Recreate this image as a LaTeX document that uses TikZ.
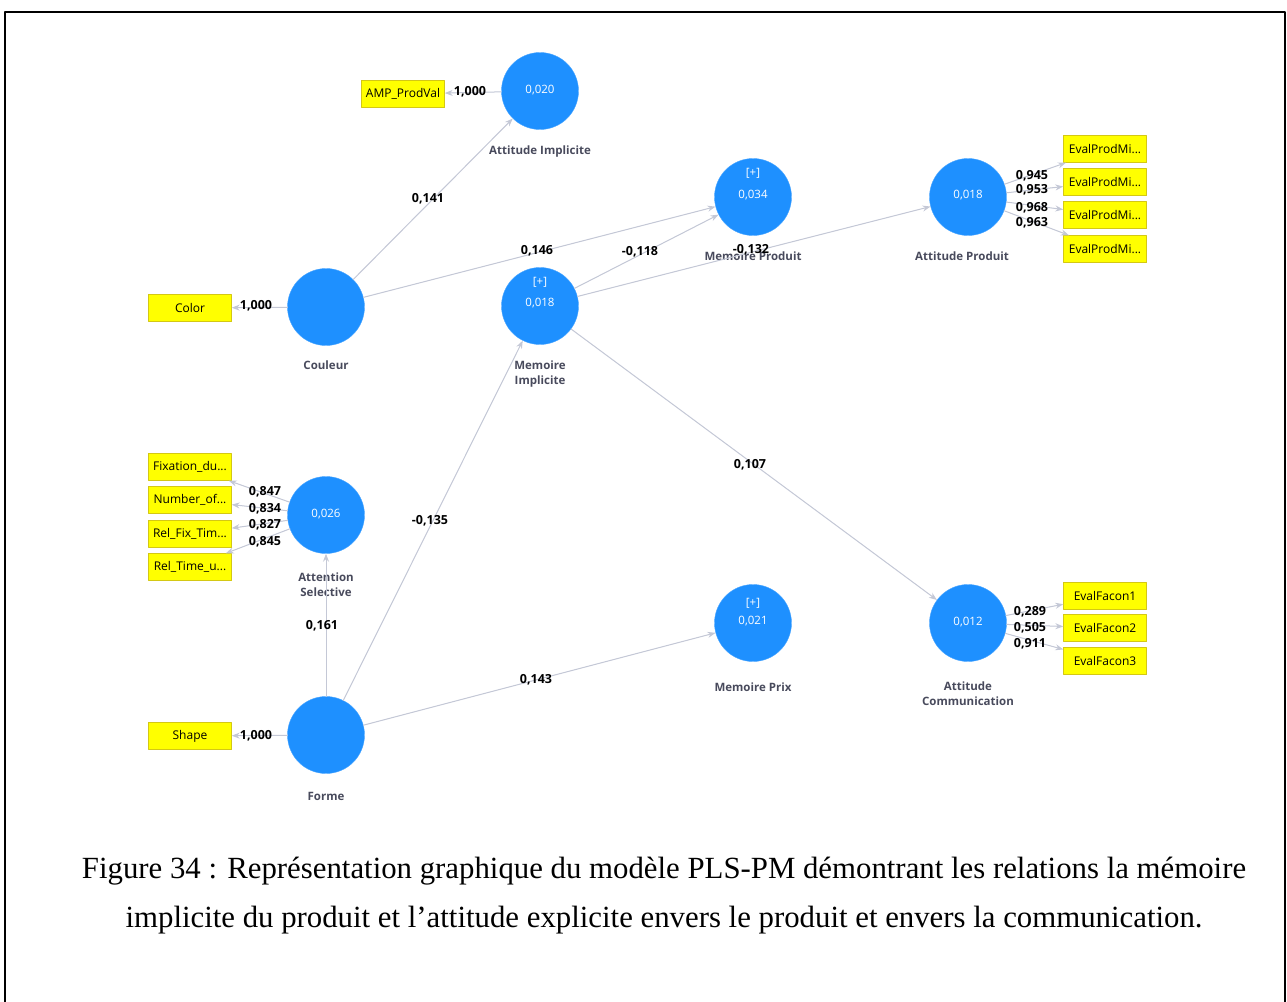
\documentclass[tikz,border=0pt]{standalone}
\usepackage{fontspec}
\setmainfont{Liberation Serif}
\newfontfamily\plsfont{Open Sans}
\usetikzlibrary{arrows.meta}
\definecolor{lvblue}{RGB}{30,144,255}
\definecolor{mvyellow}{RGB}{255,255,0}
\definecolor{mvedge}{RGB}{212,200,20}
\definecolor{pathgray}{RGB}{196,200,214}
\definecolor{namegray}{RGB}{72,74,92}
\begin{document}
\begin{tikzpicture}[x=1pt, y=-1pt, >={Stealth[length=8pt, width=6pt]}, line join=round, line cap=round,
	lv/.style={circle, fill=lvblue, draw=lvblue!80!white, minimum size=77pt, inner sep=0pt},
	lvval/.style={text=white, font=\plsfont\fontsize{11.5}{13}\selectfont, inner sep=0pt},
	mv/.style={rectangle, fill=mvyellow, draw=mvedge, minimum width=83pt, minimum height=27pt, inner sep=0pt, font=\plsfont\fontsize{12}{13}\selectfont},
	lvname/.style={text=namegray, font=\plsfont\bfseries\fontsize{11.5}{15}\selectfont, align=center, inner sep=0pt},
	coef/.style={font=\plsfont\bfseries\fontsize{12.5}{13}\selectfont, inner sep=0pt},
	plsarrow/.style={->, draw=pathgray, fill=pathgray, line width=1pt}]
		\useasboundingbox (0,0) rectangle (1287,1001);
		% cadre
		\draw[line width=2pt] (5,1020) -- (5,12) -- (1285,12) -- (1285,1020);
		% Attitude Implicite
		\node[lv] (attimp) at (540,91) {};
		\node[lvval] (attimpv) at (540,90) {0,020};
		\node[lvname] (attimpn) at (540,152) {Attitude Implicite};
		\node[mv] (ampprod) at (403,94) {AMP\_ProdVal};
		% Couleur
		\node[lv] (couleur) at (326,307) {};
		\node[lvname] (couleurn) at (326,365) {Couleur};
		\node[mv] (color) at (190,308) {Color};
		% Forme
		\node[lv] (forme) at (326,735) {};
		\node[lvname] (formen) at (326,796) {Forme};
		\node[mv] (shape) at (190,736) {Shape};
		% Attention Selective
		\node[lv] (attsel) at (326,515) {};
		\node[lvval] (attselv) at (326,514) {0,026};
		\node[lvname] (attseln) at (326,585) {Attention\\Selective};
		\node[mv] (fixdu) at (190,467) {Fixation\_du...};
		\node[mv] (numof) at (190,500) {Number\_of...};
		\node[mv] (relfix) at (190,534) {Rel\_Fix\_Tim...};
		\node[mv] (reltime) at (190,567) {Rel\_Time\_u...};
		% Memoire Implicite
		\node[lv] (memimp) at (540,306) {};
		\node[lvval] (memimpt) at (540,282) {[+]};
		\node[lvval] (memimpv) at (540,303) {0,018};
		\node[lvname] (memimpn) at (540,374) {Memoire\\Implicite};
		% Memoire Produit
		\node[lv] (memprod) at (753,197) {};
		\node[lvval] (memprodt) at (753,173) {[+]};
		\node[lvval] (memprodv) at (753,195) {0,034};
		\node[lvname] (memprodn) at (753,256) {Memoire Produit};
		% Attitude Produit
		\node[lv] (attprod) at (968,197) {};
		\node[lvval] (attprodv) at (968,195) {0,018};
		\node[lvname] (attprodn) at (962,256) {Attitude Produit};
		\node[mv] (evalpa) at (1105,149) {EvalProdMi...};
		\node[mv] (evalpb) at (1105,182) {EvalProdMi...};
		\node[mv] (evalpc) at (1105,215) {EvalProdMi...};
		\node[mv] (evalpd) at (1105,249) {EvalProdMi...};
		% Memoire Prix
		\node[lv] (memprix) at (753,623) {};
		\node[lvval] (memprixt) at (753,603) {[+]};
		\node[lvval] (memprixv) at (753,621) {0,021};
		\node[lvname] (memprixn) at (753,687) {Memoire Prix};
		% Attitude Communication
		\node[lv] (attcom) at (968,623) {};
		\node[lvval] (attcomv) at (968,622) {0,012};
		\node[lvname] (attcomn) at (968,694) {Attitude\\Communication};
		\node[mv] (evalfa) at (1105,596) {EvalFacon1};
		\node[mv] (evalfb) at (1105,628) {EvalFacon2};
		\node[mv] (evalfc) at (1105,661) {EvalFacon3};
		% relations structurelles
		\draw[plsarrow] (couleur) -- (attimp);
		\draw[plsarrow] (couleur) -- (memprod);
		\draw[plsarrow] (memimp) -- (memprod);
		\draw[plsarrow] (memimp) -- (attprod);
		\draw[plsarrow] (memimp) -- (attcom);
		\draw[plsarrow] (forme) -- (memimp);
		\draw[plsarrow] (forme) -- (attsel);
		\draw[plsarrow] (forme) -- (memprix);
		% mesures
		\draw[plsarrow] (attimp) -- (ampprod);
		\draw[plsarrow] (couleur) -- (color);
		\draw[plsarrow] (forme) -- (shape);
		\foreach \mvname in {fixdu, numof, relfix, reltime}
			\draw[plsarrow] (attsel) -- (\mvname);
		\foreach \mvname in {evalpa, evalpb, evalpc, evalpd}
			\draw[plsarrow] (attprod) -- (\mvname);
		\foreach \mvname in {evalfa, evalfb, evalfc}
			\draw[plsarrow] (attcom) -- (\mvname);
		% coefficients
		\node[coef] (cattimp) at (428,199) {0,141};
		\node[coef] (cmemprod) at (537,251) {0,146};
		\node[coef] (cmimp) at (640,252) {-0,118};
		\node[coef] (cattprod) at (751,250) {-0,132};
		\node[coef] (cattcom) at (750,465) {0,107};
		\node[coef] (cforme) at (430,521) {-0,135};
		\node[coef] (cattsel) at (322,626) {0,161};
		\node[coef] (cmemprix) at (536,680) {0,143};
		\node[coef] (lamp) at (470,92) {1,000};
		\node[coef] (lcolor) at (256,306) {1,000};
		\node[coef] (lshape) at (256,736) {1,000};
		\node[coef] (lfix) at (265,492) {0,847};
		\node[coef] (lnum) at (265,509) {0,834};
		\node[coef] (lrelf) at (265,525) {0,827};
		\node[coef] (lrelt) at (265,542) {0,845};
		\node[coef] (lepa) at (1032,176) {0,945};
		\node[coef] (lepb) at (1032,190) {0,953};
		\node[coef] (lepc) at (1032,208) {0,968};
		\node[coef] (lepd) at (1032,223) {0,963};
		\node[coef] (lefa) at (1030,612) {0,289};
		\node[coef] (lefb) at (1030,628) {0,505};
		\node[coef] (lefc) at (1030,644) {0,911};
		% legende
		\node[align=center, font=\fontsize{30.8}{49}\selectfont] (legende) at (664,896)
			{Figure 34 : Représentation graphique du modèle PLS-PM démontrant les relations la mémoire\\
			implicite du produit et l’attitude explicite envers le produit et envers la communication.};
\end{tikzpicture}
\end{document}
